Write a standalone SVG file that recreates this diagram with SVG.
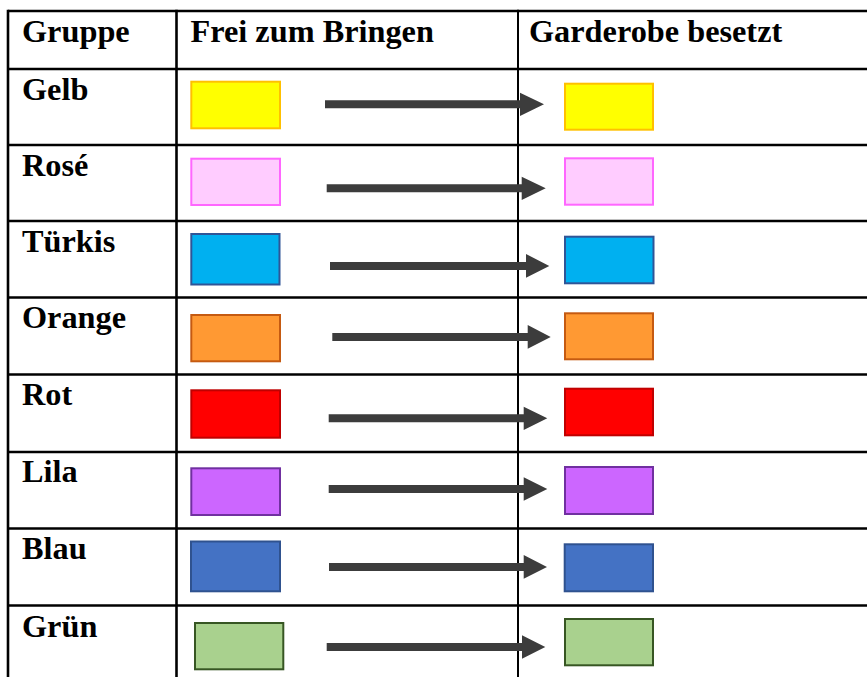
<svg xmlns="http://www.w3.org/2000/svg" width="867" height="677" viewBox="0 0 867 677">
<style>
.t{font-family:"Liberation Serif","Times New Roman",serif;font-weight:bold;font-size:32.3px;fill:#000}
.g{stroke:#000;stroke-width:2.6;fill:none}
.g2{stroke:#000;stroke-width:2;fill:none}
.b{stroke-width:2}
.arr{fill:#3C3C3C}
</style>
<rect width="867" height="677" fill="#fff"/>
<g id="table">
<line class="g" x1="8" y1="11" x2="867" y2="11"/>
<line class="g" x1="8" y1="69" x2="867" y2="69"/>
<line class="g" x1="8" y1="145" x2="867" y2="145"/>
<line class="g" x1="8" y1="221" x2="867" y2="221"/>
<line class="g" x1="8" y1="297.5" x2="867" y2="297.5"/>
<line class="g" x1="8" y1="374.5" x2="867" y2="374.5"/>
<line class="g" x1="8" y1="452" x2="867" y2="452"/>
<line class="g" x1="8" y1="528.5" x2="867" y2="528.5"/>
<line class="g" x1="8" y1="605.5" x2="867" y2="605.5"/>
<line class="g" x1="8" y1="9.7" x2="8" y2="677"/>
<line class="g" x1="176.5" y1="9.7" x2="176.5" y2="677"/>
<line class="g2" x1="518" y1="9.7" x2="518" y2="677"/>
</g>
<g id="header">
<text class="t" x="22" y="41.5">Gruppe</text>
<text class="t" x="190.5" y="41.5">Frei zum Bringen</text>
<text class="t" x="529" y="41.5">Garderobe besetzt</text>
</g>
<g id="row-gelb">
<text class="t" x="22" y="99.5">Gelb</text>
<rect class="b" x="191.3" y="81.7" width="88.7" height="46.6" fill="#FFFF00" stroke="#FFC000"/>
<rect class="b" x="565" y="83.7" width="88" height="46" fill="#FFFF00" stroke="#FFC000"/>
</g>
<g id="row-rose">
<text class="t" x="22" y="175.5">Rosé</text>
<rect class="b" x="191.3" y="158.7" width="88.7" height="46.3" fill="#FFCCFF" stroke="#FF66FF"/>
<rect class="b" x="565" y="158.3" width="88" height="46.4" fill="#FFCCFF" stroke="#FF66FF"/>
</g>
<g id="row-tuerkis">
<text class="t" x="22" y="251.5">Türkis</text>
<rect class="b" x="191.3" y="234" width="88.2" height="50.5" fill="#00B0F0" stroke="#2F5597"/>
<rect class="b" x="565" y="236.7" width="88.5" height="46.6" fill="#00B0F0" stroke="#2F5597"/>
</g>
<g id="row-orange">
<text class="t" x="22" y="328">Orange</text>
<rect class="b" x="191.3" y="315" width="88.7" height="46.3" fill="#FF9933" stroke="#C55A11"/>
<rect class="b" x="565" y="313.3" width="88" height="46" fill="#FF9933" stroke="#C55A11"/>
</g>
<g id="row-rot">
<text class="t" x="22" y="405">Rot</text>
<rect class="b" x="191.3" y="390.3" width="88.7" height="47.4" fill="#FF0000" stroke="#C00000"/>
<rect class="b" x="565" y="388.7" width="88" height="46.6" fill="#FF0000" stroke="#C00000"/>
</g>
<g id="row-lila">
<text class="t" x="22" y="482">Lila</text>
<rect class="b" x="191.3" y="468.3" width="88.7" height="46.7" fill="#CC66FF" stroke="#7030A0"/>
<rect class="b" x="565" y="467" width="88" height="47" fill="#CC66FF" stroke="#7030A0"/>
</g>
<g id="row-blau">
<text class="t" x="22" y="558.5">Blau</text>
<rect class="b" x="191" y="541.5" width="89" height="49.8" fill="#4472C4" stroke="#2F528F"/>
<rect class="b" x="564.7" y="544.3" width="88.3" height="47" fill="#4472C4" stroke="#2F528F"/>
</g>
<g id="row-gruen">
<text class="t" x="22" y="636.5">Grün</text>
<rect class="b" x="195" y="623" width="88.3" height="46.3" fill="#A9D18E" stroke="#375623"/>
<rect class="b" x="565" y="619" width="88" height="46.3" fill="#A9D18E" stroke="#375623"/>
</g>
<g id="connectors" class="arr">
<polygon points="325,100.3 520,100.3 520,92.7 544,104.3 520,116 520,108.3 325,108.3"/>
<polygon points="326.7,184.3 521.7,184.3 521.7,176.7 545.7,188.3 521.7,200 521.7,192.3 326.7,192.3"/>
<polygon points="330,262 526,262 526,254 549.3,266 526,277.7 526,270 330,270"/>
<polygon points="332.3,333 527.7,333 527.7,325 550.7,337 527.7,348.7 527.7,341 332.3,341"/>
<polygon points="328.7,414.3 523.7,414.3 523.7,406.7 547.3,418.3 523.7,430 523.7,422.3 328.7,422.3"/>
<polygon points="328.7,485 523.7,485 523.7,477.3 547.3,489 523.7,500.7 523.7,493 328.7,493"/>
<polygon points="329,563 523.7,563 523.7,555 547,567 523.7,578.7 523.7,571 329,571"/>
<polygon points="326.7,643 522,643 522,635.3 545.3,647 522,658.7 522,651 326.7,651"/>
</g>
</svg>
